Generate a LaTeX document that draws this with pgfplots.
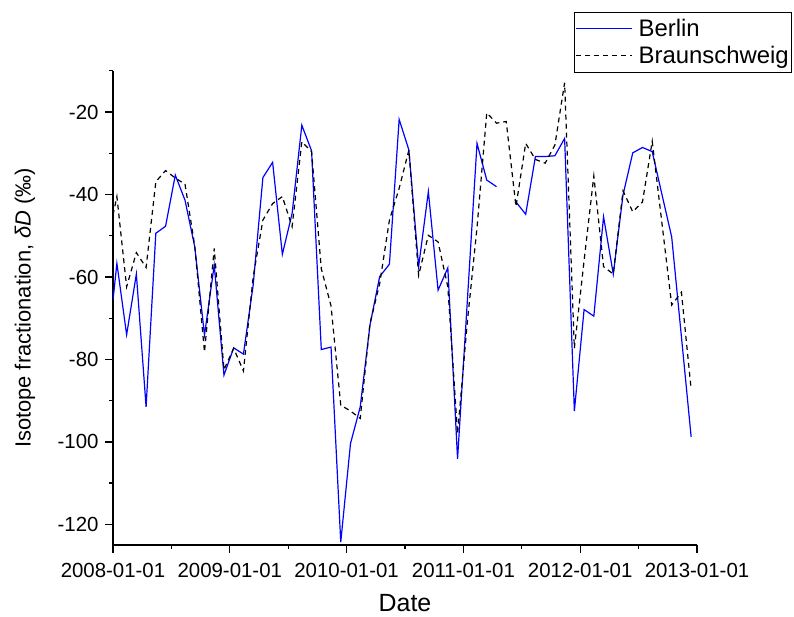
\documentclass[border=0pt]{standalone}
\usepackage{pgfplots}
\pgfplotsset{compat=1.18}
\usepackage{pgfplotstable}
\usepackage{fontspec}
\setmainfont{Liberation Sans}

\pgfplotstableread{
m v
0 -65.6
0.4 -56.7
1.4 -74.0
2.4 -59.3
3.4 -91.5
4.4 -49.4
5.4 -47.7
6.4 -35.3
7.4 -41.4
8.4 -52.7
9.4 -74.1
10.4 -57.1
11.4 -83.8
12.4 -77.2
13.4 -78.7
14.4 -62
15.4 -35.9
16.4 -32.2
17.4 -54.5
18.4 -44.6
19.4 -23.2
20.4 -29.4
21.4 -77.6
22.4 -77.0
23.4 -124.3
24.4 -100.4
25.4 -91.5
26.4 -71.7
27.4 -59.9
28.4 -56.9
29.4 -21.8
30.4 -29.2
31.4 -57.5
32.4 -39.3
33.4 -63.2
34.4 -57.8
35.4 -104.1
36.4 -66
37.4 -27.6
38.4 -36.5
39.4 -38.1
40.4 nan
41.4 -41.8
42.4 -44.8
43.4 -30.8
44.4 -30.8
45.4 -30.6
46.4 -26.4
47.4 -92.5
48.4 -67.9
49.4 -69.5
50.4 -45.4
51.4 -59.3
52.4 -40.1
53.4 -29.9
54.4 -28.6
55.4 -29.6
56.4 -40
57.4 -50.3
58.4 -74.5
59.4 -98.8
}\berlin

\pgfplotstableread{
m v
0 -45
0.4 -40.5
1.4 -62.4
2.4 -54.1
3.4 -57.7
4.4 -36.9
5.4 -34.2
6.4 -36
7.4 -37.5
8.4 -52.5
9.4 -78.2
10.4 -53.1
11.4 -82.5
12.4 -77.3
13.4 -82.8
14.4 -60
15.4 -46.2
16.4 -42.2
17.4 -40.5
18.4 -47.8
19.4 -27.2
20.4 -29.6
21.4 -58
22.4 -67
23.4 -91.1
24.4 -92.5
25.4 -94.3
26.4 -71.3
27.4 -61.6
28.4 -46.2
29.4 -38.5
30.4 -29.2
31.4 -59.6
32.4 -49.9
33.4 -51.5
34.4 -62.4
35.4 -98
36.4 -71
37.4 -48
38.4 -20.2
39.4 -22.7
40.4 -22.3
41.4 -42.9
42.4 -27.6
43.4 -31.5
44.4 -32.4
45.4 -28.0
46.4 -12.9
47.4 -77.3
48.4 -56
49.4 -35.5
50.4 -57.5
51.4 -59.3
52.4 -39.1
53.4 -44.2
54.4 -41.8
55.4 -27.1
56.4 -47
57.4 -66.8
58.4 -63.7
59.4 -87.3
}\braun

\begin{document}
\begin{tikzpicture}
\path[use as bounding box] (0,0) rectangle (794bp,617bp);
\begin{axis}[
  at={(113bp,72bp)}, anchor=south west,
  scale only axis,
  width=584bp, height=474.2bp,
  xmin=0, xmax=60, ymin=-125, ymax=-10,
  axis x line=bottom, axis y line=left,
  axis line style={-, line width=1.3bp},
  tick align=outside,
  major tick length=8bp, minor tick length=4bp,
  every tick/.style={black, line width=1.3bp},
  xtick={0,12,24,36,48,60},
  xticklabels={2008-01-01,2009-01-01,2010-01-01,2011-01-01,2012-01-01,2013-01-01},
  minor xtick={6,18,30,42,54},
  ytick={-120,-100,-80,-60,-40,-20},
  yticklabels={-120,-100,-80,-60,-40,-20},
  minor ytick={-110,-90,-70,-50,-30,-10},
  /pgf/number format/assume math mode=true,
  ticklabel style={font=\fontsize{20.5}{23}\selectfont},
  xticklabel style={yshift=-7bp},
  yticklabel style={xshift=-3bp},
  xlabel={Date},
  ylabel={Isotope fractionation, \textit{δD} (‰)},
  xlabel style={font=\fontsize{25}{28}\selectfont, inner sep=0pt, at={(axis description cs:0.5,-0.122)}, anchor=center},
  ylabel style={font=\fontsize{22}{26}\selectfont, at={(axis description cs:-0.1507,0.5)}, anchor=center, rotate=0},
  unbounded coords=jump,
  legend cell align=left,
  legend image code/.code={\draw[#1] (0bp,0bp) -- (56bp,0bp);},
  legend style={at={(axis description cs:0.7894,1.124)}, anchor=north west,
    draw=black, line width=0.8bp, font=\fontsize{24}{26}\selectfont,
    inner xsep=1bp, inner ysep=5bp, row sep=4bp,
    nodes={inner sep=2bp},
    /tikz/every odd column/.append style={column sep=4bp}},
]
\addplot[blue, line width=1.2bp] table[x=m, y=v] {\berlin};
\addlegendentry{Berlin}
\addplot[black, line width=1.2bp, dash pattern=on 5bp off 4bp] table[x=m, y=v] {\braun};
\addlegendentry{Braunschweig}
\end{axis}
\end{tikzpicture}
\end{document}
